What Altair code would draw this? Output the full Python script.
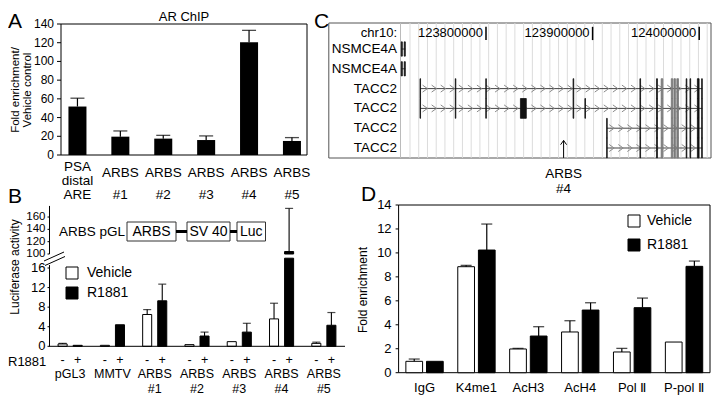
import altair as alt
import pandas as pd

FONT = "Liberation Sans"

# ---------------- Panel A: AR ChIP ----------------
a_sites = ["PSA\ndistal\nARE", "ARBS\n#1", "ARBS\n#2", "ARBS\n#3", "ARBS\n#4", "ARBS\n#5"]
a_fold = [51.8, 19.6, 17.5, 16.0, 120.4, 15.0]
a_fold_err = [60.7, 25.7, 21.0, 20.4, 133.2, 18.6]
a_ticks = [0, 20, 40, 60, 80, 100, 120, 140]

# ---------------- Panel B: luciferase ----------------
b_constructs = ["pGL3", "MMTV", "ARBS\n#1", "ARBS\n#2", "ARBS\n#3", "ARBS\n#4", "ARBS\n#5"]
b_vehicle = [0.48, 0.2, 6.5, 0.34, 0.95, 5.6, 0.6]
b_vehicle_err = [0.6, None, 7.5, None, None, 8.8, 0.85]
b_r1881 = [0.2, 4.4, 9.3, 2.1, 2.9, 104.0, 4.3]
b_r1881_err = [None, None, 12.7, 2.9, 4.7, 174.0, 6.9]
b_low_ticks = [0, 4, 8, 12, 16]
b_up_ticks = [100, 120, 140, 160]

treatments = ["Vehicle", "R1881"]

# ---------------- Panel C: genome browser ----------------
c_labels = ["NSMCE4A", "NSMCE4A", "TACC2", "TACC2", "TACC2", "TACC2"]
c_tx_start = [123720500, 123720500, 123738300, 123738300, 123913400, 123913400]
c_tx_end = [123724300, 123724300, 124002900, 124002900, 124002900, 124002900]
nsm_exons = [(123720500, 123721500, "k"), (123723300, 123724300, "k")]
tacc_long_first = [(123738100, 123738600, "k"), (123771200, 123771700, "k"),
                   (123799800, 123800300, "k"), (123881700, 123882300, "k")]
tacc_row3_extra = [(123832300, 123837800, "k"), (123892800, 123893300, "k")]
tacc_short_first = [(123913200, 123913700, "k")]
tacc_common = [(123944400, 123945000, "k"), (123960000, 123960800, "k"),
               (123964300, 123965900, "g"), (123973800, 123975200, "g"),
               (123976300, 123977700, "g"), (123979000, 123980600, "g"),
               (123987800, 123988400, "k"), (123991400, 123992000, "k"),
               (123998300, 123999900, "k"), (124002300, 124002900, "k")]
c_ruler = [123800000, 123900000, 124000000]
c_arbs4 = 123872800

# ---------------- Panel D: histone ChIP ----------------
d_marks = ["IgG", "K4me1", "AcH3", "AcH4", "Pol \u2161", "P-pol \u2161"]
d_vehicle = [0.95, 8.85, 1.98, 3.4, 1.73, 2.56]
d_vehicle_err = [1.14, 8.96, 2.03, 4.34, 2.03, None]
d_r1881 = [0.95, 10.24, 3.06, 5.23, 5.43, 8.88]
d_r1881_err = [None, 12.41, 3.84, 5.84, 6.23, 9.32]
d_ticks = [0, 2, 4, 6, 8, 10, 12, 14]


def grouped_frame(cats, veh, veh_err, r, r_err, catname):
    rows = []
    for i, c in enumerate(cats):
        rows.append({catname: c, "treat": "Vehicle", "sign": "-", "val": veh[i], "err": veh_err[i]})
        rows.append({catname: c, "treat": "R1881", "sign": "+", "val": r[i], "err": r_err[i]})
    return pd.DataFrame(rows)


one = pd.DataFrame({"k": [0]})


def txt(s, x, y, size=13, align="center", baseline="middle", angle=0, lh=None):
    kw = dict(fontSize=size, align=align, baseline=baseline, font=FONT, color="black")
    if angle:
        kw["angle"] = angle
    if "\n" in s:
        kw["lineBreak"] = "\n"
        kw["lineHeight"] = lh or size + 2
    return alt.Chart(one).mark_text(**kw).encode(x=alt.value(x), y=alt.value(y), text=alt.value(s))


def box(x1, y1, x2, y2, color="black", sw=1):
    return alt.Chart(one).mark_rect(fillOpacity=0, stroke=color, strokeWidth=sw).encode(
        x=alt.value(x1), x2=alt.value(x2), y=alt.value(y1), y2=alt.value(y2))


def seg(x1, y1, x2, y2, color="black", sw=1):
    return alt.Chart(one).mark_rule(color=color, strokeWidth=sw).encode(
        x=alt.value(x1), x2=alt.value(x2), y=alt.value(y1), y2=alt.value(y2))


def y_axis(values, scale, xpos, size, tick=3, pad=3, lo=None, hi=None):
    """Left axis drawn with marks through the panel's y scale."""
    df = pd.DataFrame({"v": values, "lab": [str(v) for v in values]})
    layers = []
    if tick > 0:
        layers.append(alt.Chart(df).mark_rule(color="black", strokeWidth=1).encode(
            x=alt.value(xpos - tick), x2=alt.value(xpos),
            y=alt.Y("v:Q", scale=scale, axis=None)))
    layers.append(alt.Chart(df).mark_text(align="right", baseline="middle", fontSize=size,
                                          font=FONT, color="black").encode(
        x=alt.value(xpos - tick - pad), y=alt.Y("v:Q", scale=scale, axis=None), text="lab:N"))
    if lo is not None:
        layers.append(alt.Chart(one).mark_rule(color="black", strokeWidth=1).encode(
            x=alt.value(xpos),
            y=alt.YDatum(lo, type="quantitative", scale=scale, axis=None),
            y2=alt.Y2Datum(hi)))
    return layers


def x_labels(chart, field, scale, ypos, size, lh=14):
    return chart.mark_text(fontSize=size, font=FONT, color="black", align="center",
                           baseline="middle", lineBreak="\n", lineHeight=lh).encode(
        x=alt.X(f"{field}:N", scale=scale, axis=None), y=alt.value(ypos),
        text=f"{field}:N")


# ================= Panel A =================
dfA = pd.DataFrame({"site": a_sites, "fold": a_fold, "err": a_fold_err})
scA_x = alt.Scale(domain=a_sites, range=[48.0, 305.4], paddingInner=0.58, paddingOuter=0.29)
scA_y = alt.Scale(domain=[0, 140], range=[147, 16], nice=False)
barsA = alt.Chart(dfA).mark_bar(color="black").encode(
    x=alt.X("site:N", scale=scA_x, axis=None),
    y=alt.Y("fold:Q", scale=scA_y, axis=None))
errA = alt.Chart(dfA).mark_rule(color="black", strokeWidth=1.2).encode(
    x=alt.X("site:N", scale=scA_x, axis=None),
    y=alt.Y("fold:Q", scale=scA_y, axis=None), y2="err:Q")
capA = alt.Chart(dfA).mark_tick(color="black", thickness=1.3, size=14).encode(
    x=alt.X("site:N", scale=scA_x, axis=None),
    y=alt.Y("err:Q", scale=scA_y, axis=None))
labA3 = x_labels(alt.Chart(dfA).transform_filter("indexof(datum.site, 'PSA') == 0"),
                 "site", scA_x, 159, 13.5, lh=14)
labA2 = x_labels(alt.Chart(dfA).transform_filter("indexof(datum.site, 'PSA') < 0"),
                 "site", scA_x, 165, 13.5, lh=22)
groupA = alt.layer(barsA, errA, capA, labA3, labA2,
                   *y_axis(a_ticks, scA_y, 53, 12, tick=4, pad=3))

# ================= Panel B =================
dfB = grouped_frame(b_constructs, b_vehicle, b_vehicle_err, b_r1881, b_r1881_err, "construct")
scB_x = alt.Scale(domain=b_constructs, range=[41, 337], paddingInner=0.43, paddingOuter=0.215)
scB_off = alt.Scale(domain=treatments, paddingInner=0.4, paddingOuter=0)
scB_low = alt.Scale(domain=[0, 18], range=[338.3, 250.2], clamp=True, nice=False)
scB_up = alt.Scale(domain=[100, 180], range=[246, 196.7], clamp=True, nice=False, zero=False)
scB_fill = alt.Scale(domain=treatments, range=["white", "black"])
legB = alt.Legend(orient="none", legendX=57, legendY=258, title=None, symbolType="square",
                  symbolSize=144, symbolStrokeColor="black", symbolStrokeWidth=1,
                  labelFontSize=14, labelOffset=8, rowPadding=4)


def xB():
    return alt.X("construct:N", scale=scB_x, axis=None)


xoffB = alt.XOffset("treat:N", scale=scB_off)

barsBl = alt.Chart(dfB).mark_bar(stroke="black", strokeWidth=1).encode(
    x=xB(), xOffset=xoffB,
    y=alt.Y("val:Q", scale=scB_low, axis=None),
    fill=alt.Fill("treat:N", scale=scB_fill, legend=legB))
errBl = alt.Chart(dfB).transform_filter("isValid(datum.err) && datum.err < 18").mark_rule(
    color="black", strokeWidth=1.1).encode(
    x=xB(), xOffset=xoffB, y=alt.Y("val:Q", scale=scB_low, axis=None), y2="err:Q")
capBl = alt.Chart(dfB).transform_filter("isValid(datum.err) && datum.err < 18").mark_tick(
    color="black", thickness=1.2, size=8).encode(
    x=xB(), xOffset=xoffB, y=alt.Y("err:Q", scale=scB_low, axis=None))
baseB = alt.Chart(one).mark_rule(color="black", strokeWidth=1).encode(
    x=alt.value(41), x2=alt.value(337),
    y=alt.YDatum(0, type="quantitative", scale=scB_low, axis=None))
signsB = alt.Chart(dfB).mark_text(fontSize=12.5, font=FONT, color="black", baseline="middle").encode(
    x=xB(), xOffset=xoffB, y=alt.value(352), text="sign:N")
labB = x_labels(alt.Chart(dfB).transform_filter("datum.treat == 'Vehicle'"),
                "construct", scB_x, 366, 12.5, lh=14.5)
lowerB = alt.layer(barsBl, errBl, capBl, baseB, signsB, labB,
                   *y_axis(b_low_ticks, scB_low, 41.5, 13, tick=2, pad=2, lo=0, hi=16.6))

upB = alt.Chart(dfB).transform_filter("datum.val > 18")
barsBu = upB.mark_bar(stroke="black", strokeWidth=1).encode(
    x=xB(), xOffset=xoffB,
    y=alt.Y("val:Q", scale=scB_up, axis=None), y2=alt.Y2Datum(100),
    fill=alt.Fill("treat:N", scale=scB_fill, legend=None))
errBu = upB.mark_rule(color="black", strokeWidth=1.1).encode(
    x=xB(), xOffset=xoffB, y=alt.Y("val:Q", scale=scB_up, axis=None), y2="err:Q")
capBu = upB.mark_tick(color="black", thickness=1.2, size=8).encode(
    x=xB(), xOffset=xoffB, y=alt.Y("err:Q", scale=scB_up, axis=None))
upperB = alt.layer(barsBu, errBu, capBu,
                   *y_axis(b_up_ticks, scB_up, 41.5, 11.5, tick=2, pad=2, lo=100, hi=178))
groupB = alt.layer(lowerB, upperB).resolve_scale(y="independent")

# ================= Panel C =================
scC_x = alt.Scale(domain=[123719800, 124011070], range=[392.5, 703], nice=False, zero=False)
scC_y = alt.Scale(domain=[0, 5], range=[41, 140], nice=False, zero=False)


def cx(field):
    return alt.X(field, type="quantitative", scale=scC_x, axis=None)


def cy(field):
    return alt.Y(field, type="quantitative", scale=scC_y, axis=None)


tx_df = pd.DataFrame({"row": list(range(6)), "name": c_labels,
                      "start": c_tx_start, "end": c_tx_end})
ex_rows = []
row_exons = [nsm_exons, nsm_exons,
             tacc_long_first + tacc_common,
             tacc_long_first + tacc_row3_extra + tacc_common,
             tacc_short_first + tacc_common,
             tacc_short_first + tacc_common]
for r, exs in enumerate(row_exons):
    half = 0.36 if r < 2 else 0.5
    for (s, e, shade) in exs:
        ex_rows.append({"row": r, "start": s, "end": e, "shade": shade,
                        "y0": r - half, "y1": r + half})
ex_df = pd.DataFrame(ex_rows)
chev_rows = []
for r in range(2, 6):
    for p in range(c_tx_start[r] + 4500, c_tx_end[r] - 2000, 8500):
        chev_rows.append({"row": r, "pos": p})
chev_df = pd.DataFrame(chev_rows)
grid_df = pd.DataFrame({"pos": list(range(123728700, 124011000, 8200)), "y0": -1.31, "y1": 5.5})
ruler_df = pd.DataFrame({"pos": c_ruler, "label": [str(v) for v in c_ruler],
                         "y0": -1.12, "y1": -0.45, "ly": -0.8})
arrow_df = pd.DataFrame({"pos": [c_arbs4], "y0": [5.5], "y1": [4.62], "l1": [6.3], "l2": [7.06]})

gridC = alt.Chart(grid_df).mark_rule(color="#dcdcdc", strokeWidth=1).encode(
    x=cx("pos"), y=cy("y0"), y2="y1:Q")
backC = alt.Chart(tx_df).mark_rule(color="#444444", strokeWidth=1).encode(
    x=cx("start"), x2="end:Q", y=cy("row"))
chevC = alt.Chart(chev_df).mark_point(shape="M-0.7,-1L0.7,0L-0.7,1", filled=False, size=49,
                                      color="#8a8a8a", strokeWidth=1, opacity=1).encode(
    x=cx("pos"), y=cy("row"))
exC = alt.Chart(ex_df).mark_rect(strokeWidth=0.8).encode(
    x=cx("start"), x2="end:Q", y=cy("y0"), y2="y1:Q",
    fill=alt.Fill("shade:N", scale=alt.Scale(domain=["k", "g"], range=["#111111", "#7a7a7a"]), legend=None),
    stroke=alt.Stroke("shade:N", scale=alt.Scale(domain=["k", "g"], range=["#111111", "#7a7a7a"]), legend=None))
labC = alt.Chart(tx_df).mark_text(fontSize=13.5, font=FONT, color="black", align="right",
                                  baseline="middle").encode(
    x=alt.value(389), y=cy("row"), text="name:N")
chrC = alt.Chart(ruler_df.head(1)).mark_text(fontSize=13, font=FONT, color="black", align="right",
                                             baseline="middle").encode(
    x=alt.value(389), y=cy("ly"), text=alt.value("chr10:"))
rtickC = alt.Chart(ruler_df).mark_rule(color="black", strokeWidth=1.5).encode(
    x=cx("pos"), y=cy("y0"), y2="y1:Q")
rlabC = alt.Chart(ruler_df).mark_text(fontSize=13, font=FONT, color="black", align="right",
                                      baseline="middle", dx=-3).encode(
    x=cx("pos"), y=cy("ly"), text="label:N")
arrC = alt.Chart(arrow_df).mark_rule(color="black", strokeWidth=1).encode(
    x=cx("pos"), y=cy("y0"), y2="y1:Q")
headC = alt.Chart(arrow_df).mark_point(shape="M-1,1.4L0,0L1,1.4", filled=False, size=36,
                                       color="black", strokeWidth=1, opacity=1).encode(
    x=cx("pos"), y=cy("y1"))
arrL1 = alt.Chart(arrow_df).mark_text(fontSize=13.5, font=FONT, color="black").encode(
    x=cx("pos"), y=cy("l1"), text=alt.value("ARBS"))
arrL2 = alt.Chart(arrow_df).mark_text(fontSize=13.5, font=FONT, color="black").encode(
    x=cx("pos"), y=cy("l2"), text=alt.value("#4"))
groupC = alt.layer(gridC, backC, chevC, exC, labC, chrC, rtickC, rlabC, arrC, headC, arrL1, arrL2)

# ================= Panel D =================
dfD = grouped_frame(d_marks, d_vehicle, d_vehicle_err, d_r1881, d_r1881_err, "mark")
scD_x = alt.Scale(domain=d_marks, range=[390.6, 702], paddingInner=0.28, paddingOuter=0.14)
scD_off = alt.Scale(domain=treatments, paddingInner=0.19, paddingOuter=0)
scD_y = alt.Scale(domain=[0, 14], range=[364.7, 197], nice=False)
scD_fill = alt.Scale(domain=treatments, range=["white", "black"])
legD = alt.Legend(orient="none", legendX=619, legendY=206, title=None, symbolType="square",
                  symbolSize=144, symbolStrokeColor="black", symbolStrokeWidth=1,
                  labelFontSize=14, labelOffset=6, rowPadding=8)


def xD():
    return alt.X("mark:N", scale=scD_x, axis=None)


xoffD = alt.XOffset("treat:N", scale=scD_off)
barsD = alt.Chart(dfD).mark_bar(stroke="black", strokeWidth=1).encode(
    x=xD(), xOffset=xoffD,
    y=alt.Y("val:Q", scale=scD_y, axis=None),
    fill=alt.Fill("treat:N", scale=scD_fill, legend=legD))
errD = alt.Chart(dfD).transform_filter("isValid(datum.err)").mark_rule(
    color="black", strokeWidth=1.2).encode(
    x=xD(), xOffset=xoffD, y=alt.Y("val:Q", scale=scD_y, axis=None), y2="err:Q")
capD = alt.Chart(dfD).transform_filter("isValid(datum.err)").mark_tick(
    color="black", thickness=1.3, size=11).encode(
    x=xD(), xOffset=xoffD, y=alt.Y("err:Q", scale=scD_y, axis=None))
labD = x_labels(alt.Chart(dfD).transform_filter("datum.treat == 'Vehicle'"),
                "mark", scD_x, 380, 13)
groupD = alt.layer(barsD, errD, capD, labD, *y_axis(d_ticks, scD_y, 390.6, 13, tick=3, pad=4))

# ================= annotations =================
texts = [
    txt("A", 0, 2.5, size=21, align="left", baseline="top"),
    txt("B", 0, 178, size=21, align="left", baseline="top"),
    txt("C", 306, 2.5, size=21, align="left", baseline="top"),
    txt("D", 353, 176, size=21, align="left", baseline="top"),
    txt("AR ChIP", 176, 8.5, size=13),
    txt("Fold enrichment/\nVehicle control", 7.5, 82, size=11.5, angle=270, lh=12),
    txt("Luciferase activity", 7, 259, size=12, angle=270),
    txt("Fold enrichment", 355, 282, size=12, angle=270),
    txt("R1881", 0, 354, size=13, align="left"),
    # reporter construct schematic
    txt("ARBS pGL", 51, 224, size=13.5, align="left"),
    box(119, 214, 168, 233, color="#333333"),
    box(179, 214, 222, 233, color="#333333"),
    box(229, 214, 257.5, 233, color="#333333"),
    seg(168, 223.5, 179, 223.5, sw=3),
    seg(222, 223.5, 229, 223.5, sw=3),
    txt("ARBS", 143.5, 224, size=14),
    txt("SV 40", 200.5, 224, size=14),
    txt("Luc", 243.2, 224, size=14),
    # axis break marks
    seg(36, 253, 56, 244),
    seg(37, 257.5, 57, 248.5),
]

frames = [
    box(53, 16, 299, 147),
    box(320.8, 15, 703, 150, color="#555555"),
    seg(392.5, 15, 392.5, 150, color="#bbbbbb"),
    box(390.6, 197, 702, 364.7),
]

chart = alt.layer(*frames, groupA, groupB, groupC, groupD, *texts).resolve_scale(
    x="independent", y="independent", fill="independent", stroke="independent",
    xOffset="independent"
).properties(
    width=704, height=388, padding=0, autosize=alt.AutoSizeParams(type="none")
).configure_view(strokeWidth=0).configure_legend(labelFont=FONT, labelColor="black")

chart.save("out.html", embed_options={"renderer": "svg", "actions": False})
